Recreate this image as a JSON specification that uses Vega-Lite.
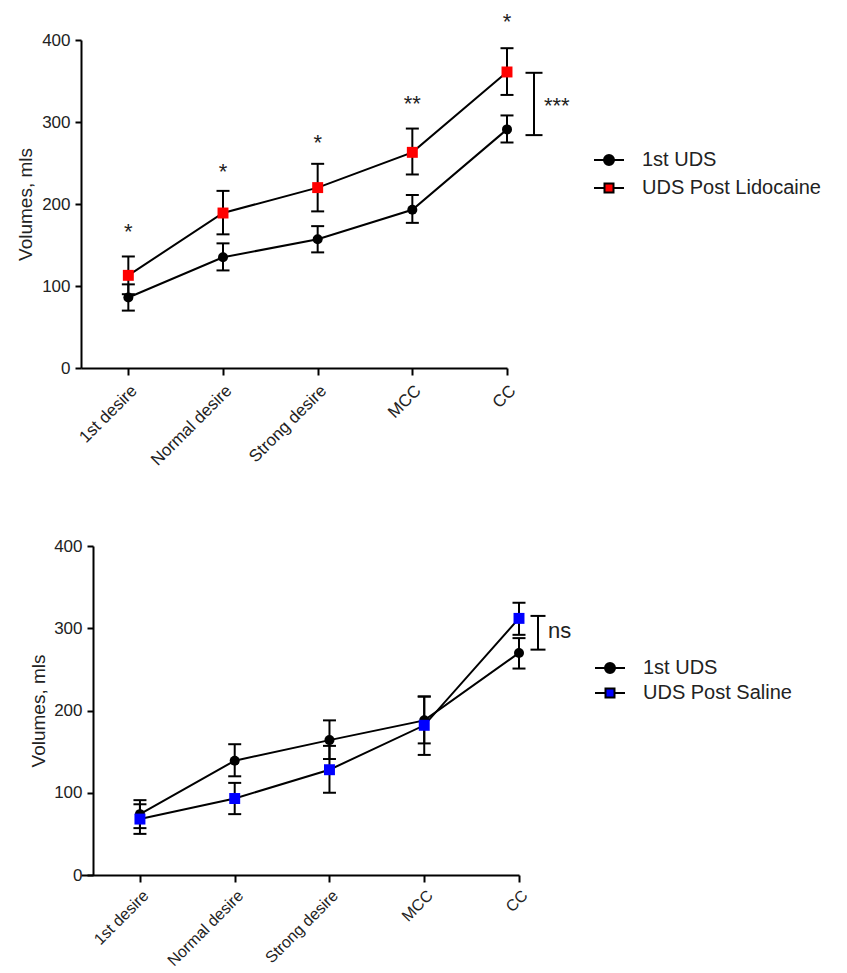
{
  "$schema": "https://vega.github.io/schema/vega-lite/v6.json",
  "padding": {"left": 16, "top": 11, "right": 5, "bottom": 2},
  "background": "white",
  "spacing": 68,
  "config": {
    "view": {"stroke": null},
    "font": "Liberation Sans",
    "axis": {
      "domainColor": "black", "domainWidth": 2, "tickColor": "black", "tickWidth": 2,
      "labelColor": "#222", "titleColor": "#222", "labelFont": "Liberation Sans", "titleFont": "Liberation Sans",
      "titleFontWeight": "normal", "grid": false
    },
    "legend": {"labelFont": "Liberation Sans", "labelColor": "#222", "labelLimit": 0}
  },
  "datasets": {
    "top": [
      {"stage": "1st desire", "series": "1st UDS", "v": 86, "lo": 70, "hi": 102},
      {"stage": "Normal desire", "series": "1st UDS", "v": 135, "lo": 119, "hi": 152},
      {"stage": "Strong desire", "series": "1st UDS", "v": 157, "lo": 141, "hi": 173},
      {"stage": "MCC", "series": "1st UDS", "v": 193, "lo": 177, "hi": 211},
      {"stage": "CC", "series": "1st UDS", "v": 291, "lo": 275, "hi": 308},
      {"stage": "1st desire", "series": "UDS Post Lidocaine", "v": 113, "lo": 90, "hi": 136},
      {"stage": "Normal desire", "series": "UDS Post Lidocaine", "v": 189, "lo": 163, "hi": 216},
      {"stage": "Strong desire", "series": "UDS Post Lidocaine", "v": 220, "lo": 191, "hi": 249},
      {"stage": "MCC", "series": "UDS Post Lidocaine", "v": 263, "lo": 236, "hi": 292},
      {"stage": "CC", "series": "UDS Post Lidocaine", "v": 361, "lo": 333, "hi": 390}
    ],
    "topStars": [
      {"stage": "1st desire", "y": 157, "label": "*"},
      {"stage": "Normal desire", "y": 231, "label": "*"},
      {"stage": "Strong desire", "y": 266, "label": "*"},
      {"stage": "MCC", "y": 313, "label": "**"},
      {"stage": "CC", "y": 413, "label": "*"}
    ],
    "topBracket": [{"stage": "CC", "lo": 284, "hi": 360, "ty": 311, "label": "***"}],
    "bot": [
      {"stage": "1st desire", "series": "1st UDS", "v": 74, "lo": 57, "hi": 91},
      {"stage": "Normal desire", "series": "1st UDS", "v": 139, "lo": 120, "hi": 159},
      {"stage": "Strong desire", "series": "1st UDS", "v": 164, "lo": 141, "hi": 188},
      {"stage": "MCC", "series": "1st UDS", "v": 188, "lo": 160, "hi": 217},
      {"stage": "CC", "series": "1st UDS", "v": 270, "lo": 251, "hi": 288},
      {"stage": "1st desire", "series": "UDS Post Saline", "v": 68, "lo": 50, "hi": 86},
      {"stage": "Normal desire", "series": "UDS Post Saline", "v": 93, "lo": 74, "hi": 112},
      {"stage": "Strong desire", "series": "UDS Post Saline", "v": 128, "lo": 100, "hi": 157},
      {"stage": "MCC", "series": "UDS Post Saline", "v": 182, "lo": 146, "hi": 217},
      {"stage": "CC", "series": "UDS Post Saline", "v": 312, "lo": 292, "hi": 331}
    ],
    "botBracket": [{"stage": "CC", "lo": 274, "hi": 315, "ty": 288, "label": "ns"}]
  },
  "resolve": {"scale": {"color": "independent", "x": "independent", "y": "independent"}, "legend": {"color": "independent"}},
  "vconcat": [
    {
      "width": 426,
      "height": 328,
      "encoding": {
        "x": {"field": "stage", "type": "nominal", "sort": ["1st desire", "Normal desire", "Strong desire", "MCC", "CC"],
          "scale": {"type": "point", "padding": 0.25, "align": 1},
          "axis": {"title": null, "labelAngle": -45, "labelFontSize": 17, "tickSize": 7, "labelPadding": 7}}
      },
      "layer": [
        {
          "data": {"name": "top"},
          "mark": {"type": "line", "color": "black", "strokeWidth": 2},
          "encoding": {
            "y": {"field": "v", "type": "quantitative", "scale": {"domain": [0, 400], "nice": false},
              "axis": {"values": [0, 100, 200, 300, 400], "title": "Volumes, mls", "titleFontSize": 19, "titlePadding": 6,
                "labelFontSize": 17, "tickSize": 6, "labelPadding": 5}},
            "detail": {"field": "series"}
          }
        },
        {
          "data": {"name": "top"},
          "mark": {"type": "rule", "color": "black", "strokeWidth": 2},
          "encoding": {"y": {"field": "lo", "type": "quantitative"}, "y2": {"field": "hi"}}
        },
        {
          "data": {"name": "top"},
          "mark": {"type": "tick", "color": "black", "thickness": 2, "size": 13, "opacity": 1},
          "encoding": {"y": {"field": "lo", "type": "quantitative"}}
        },
        {
          "data": {"name": "top"},
          "mark": {"type": "tick", "color": "black", "thickness": 2, "size": 13, "opacity": 1},
          "encoding": {"y": {"field": "hi", "type": "quantitative"}}
        },
        {
          "data": {"name": "top"},
          "transform": [{"filter": "datum.series === '1st UDS'"}],
          "mark": {"type": "point", "filled": true, "opacity": 1, "size": 100, "shape": "circle"},
          "encoding": {
            "y": {"field": "v", "type": "quantitative"},
            "color": {"field": "series", "type": "nominal", "scale": {"domain": ["1st UDS", "UDS Post Lidocaine"], "range": ["black", "#ff0000"]},
              "legend": {"title": null, "orient": "none", "legendX": 517, "legendY": 109, "labelFontSize": 20, "symbolSize": 400,
                "labelOffset": 22, "rowPadding": 7, "symbolStrokeColor": "black", "symbolStrokeWidth": 2, "symbolOpacity": 1,
                "encode": {"symbols": {"update": {"shape": {"signal": "datum.value === '1st UDS' ? 'M-1.5,0H1.5M0.5,0A0.5,0.5,0,1,1,-0.5,0A0.5,0.5,0,1,1,0.5,0Z' : 'M-1.5,0H-0.45M0.45,0H1.5M-0.45,-0.45H0.45V0.45H-0.45Z'"}, "stroke": {"value": "black"}, "strokeWidth": {"value": 2}}}}}}
          }
        },
        {
          "data": {"name": "top"},
          "transform": [{"filter": "datum.series !== '1st UDS'"}],
          "mark": {"type": "point", "filled": true, "opacity": 1, "size": 120, "shape": "square"},
          "encoding": {
            "y": {"field": "v", "type": "quantitative"},
            "color": {"field": "series", "type": "nominal"}
          }
        },
        {
          "data": {"name": "topStars"},
          "mark": {"type": "text", "fontSize": 22, "baseline": "alphabetic", "align": "center", "color": "#222"},
          "encoding": {"y": {"field": "y", "type": "quantitative"}, "text": {"field": "label"}}
        },
        {
          "data": {"name": "topBracket"},
          "mark": {"type": "rule", "color": "black", "strokeWidth": 2, "xOffset": 27},
          "encoding": {"y": {"field": "lo", "type": "quantitative"}, "y2": {"field": "hi"}}
        },
        {
          "data": {"name": "topBracket"},
          "mark": {"type": "tick", "color": "black", "thickness": 2, "size": 17, "opacity": 1, "xOffset": 27},
          "encoding": {"y": {"field": "lo", "type": "quantitative"}}
        },
        {
          "data": {"name": "topBracket"},
          "mark": {"type": "tick", "color": "black", "thickness": 2, "size": 17, "opacity": 1, "xOffset": 27},
          "encoding": {"y": {"field": "hi", "type": "quantitative"}}
        },
        {
          "data": {"name": "topBracket"},
          "mark": {"type": "text", "fontSize": 22, "baseline": "alphabetic", "align": "left", "dx": 37, "color": "#222"},
          "encoding": {"y": {"field": "ty", "type": "quantitative"}, "text": {"field": "label"}}
        }
      ]
    },
    {
      "width": 438,
      "height": 329,
      "encoding": {
        "x": {"field": "stage", "type": "nominal", "sort": ["1st desire", "Normal desire", "Strong desire", "MCC", "CC"],
          "scale": {"type": "point", "padding": 0.311, "align": 1},
          "axis": {"title": null, "labelAngle": -45, "labelFontSize": 16, "tickSize": 7, "labelPadding": 5}}
      },
      "layer": [
        {
          "data": {"name": "bot"},
          "mark": {"type": "line", "color": "black", "strokeWidth": 2},
          "encoding": {
            "y": {"field": "v", "type": "quantitative", "scale": {"domain": [0, 400], "nice": false},
              "axis": {"values": [0, 100, 200, 300, 400], "title": "Volumes, mls", "titleFontSize": 19, "titlePadding": 5,
                "labelFontSize": 17, "tickSize": 6, "labelPadding": 5, "offset": -12}},
            "detail": {"field": "series"}
          }
        },
        {
          "data": {"name": "bot"},
          "mark": {"type": "rule", "color": "black", "strokeWidth": 2},
          "encoding": {"y": {"field": "lo", "type": "quantitative"}, "y2": {"field": "hi"}}
        },
        {
          "data": {"name": "bot"},
          "mark": {"type": "tick", "color": "black", "thickness": 2, "size": 13, "opacity": 1},
          "encoding": {"y": {"field": "lo", "type": "quantitative"}}
        },
        {
          "data": {"name": "bot"},
          "mark": {"type": "tick", "color": "black", "thickness": 2, "size": 13, "opacity": 1},
          "encoding": {"y": {"field": "hi", "type": "quantitative"}}
        },
        {
          "data": {"name": "bot"},
          "transform": [{"filter": "datum.series === '1st UDS'"}],
          "mark": {"type": "point", "filled": true, "opacity": 1, "size": 100, "shape": "circle"},
          "encoding": {
            "y": {"field": "v", "type": "quantitative"},
            "color": {"field": "series", "type": "nominal", "scale": {"domain": ["1st UDS", "UDS Post Saline"], "range": ["black", "#0000ff"]},
              "legend": {"title": null, "orient": "none", "legendX": 518, "legendY": 111, "labelFontSize": 20, "symbolSize": 400,
                "labelOffset": 22, "rowPadding": 4, "symbolStrokeColor": "black", "symbolStrokeWidth": 2, "symbolOpacity": 1,
                "encode": {"symbols": {"update": {"shape": {"signal": "datum.value === '1st UDS' ? 'M-1.5,0H1.5M0.5,0A0.5,0.5,0,1,1,-0.5,0A0.5,0.5,0,1,1,0.5,0Z' : 'M-1.5,0H-0.45M0.45,0H1.5M-0.45,-0.45H0.45V0.45H-0.45Z'"}, "stroke": {"value": "black"}, "strokeWidth": {"value": 2}}}}}}
          }
        },
        {
          "data": {"name": "bot"},
          "transform": [{"filter": "datum.series !== '1st UDS'"}],
          "mark": {"type": "point", "filled": true, "opacity": 1, "size": 120, "shape": "square"},
          "encoding": {
            "y": {"field": "v", "type": "quantitative"},
            "color": {"field": "series", "type": "nominal"}
          }
        },
        {
          "data": {"name": "botBracket"},
          "mark": {"type": "rule", "color": "black", "strokeWidth": 2, "xOffset": 19},
          "encoding": {"y": {"field": "lo", "type": "quantitative"}, "y2": {"field": "hi"}}
        },
        {
          "data": {"name": "botBracket"},
          "mark": {"type": "tick", "color": "black", "thickness": 2, "size": 15, "opacity": 1, "xOffset": 19},
          "encoding": {"y": {"field": "lo", "type": "quantitative"}}
        },
        {
          "data": {"name": "botBracket"},
          "mark": {"type": "tick", "color": "black", "thickness": 2, "size": 15, "opacity": 1, "xOffset": 19},
          "encoding": {"y": {"field": "hi", "type": "quantitative"}}
        },
        {
          "data": {"name": "botBracket"},
          "mark": {"type": "text", "fontSize": 22, "baseline": "alphabetic", "align": "left", "dx": 29, "color": "#222"},
          "encoding": {"y": {"field": "ty", "type": "quantitative"}, "text": {"field": "label"}}
        }
      ]
    }
  ]
}
